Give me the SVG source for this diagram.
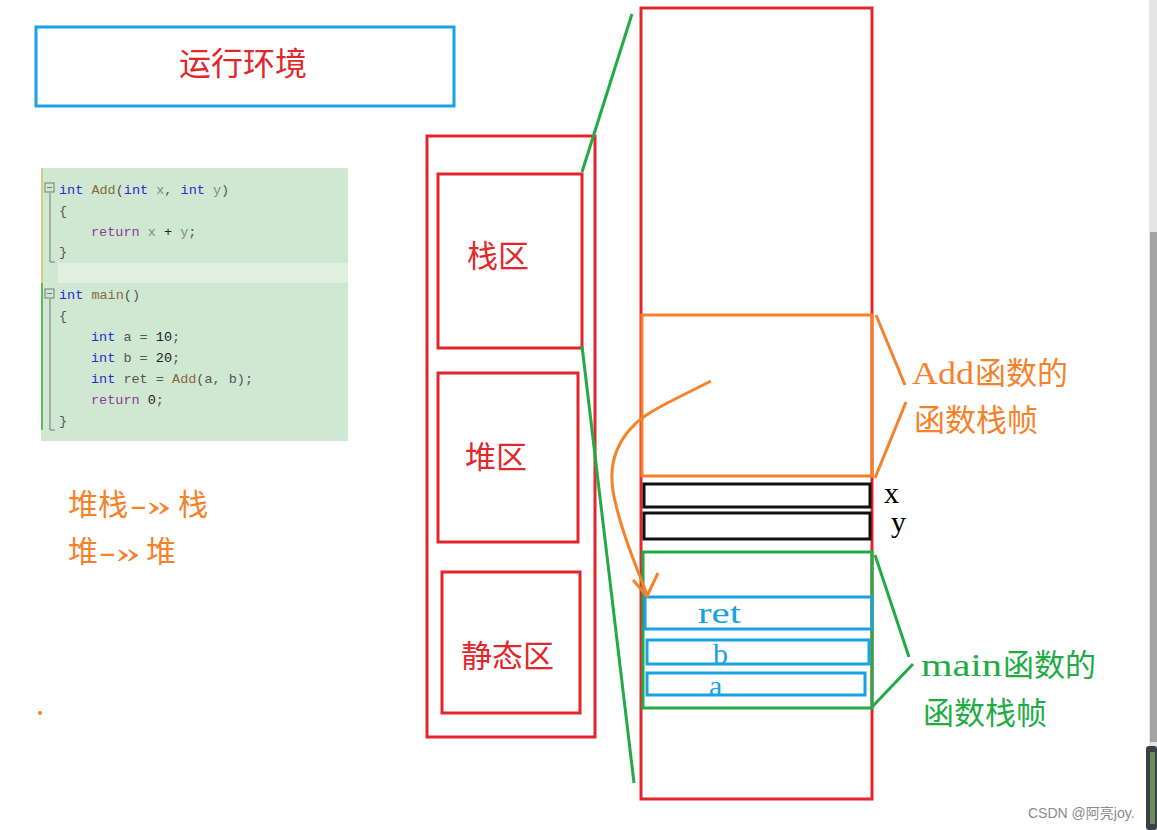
<svg xmlns="http://www.w3.org/2000/svg" width="1157" height="830" viewBox="0 0 1157 830">
<style>
.red{fill:none;stroke:#e3262b;stroke-width:3}
.blue{fill:none;stroke:#17a2e2;stroke-width:3}
.blk{fill:none;stroke:#111;stroke-width:3}
.org{fill:none;stroke:#f5822b;stroke-width:3}
.grn{fill:none;stroke:#22ab45;stroke-width:3}
.cjk{font-family:"Liberation Serif","Noto Sans CJK SC",serif}
.code{font-family:"Liberation Mono","Noto Sans CJK SC",monospace;font-size:13.5px;fill:#555}
.kw{fill:#2b2bd0}.fn{fill:#8a6a3a}.pr{fill:#888}.rt{fill:#8e3a9a}.num{fill:#222}
</style>
<rect width="1157" height="830" fill="#fff"/>

<g id="title">
<rect x="36" y="27" width="418" height="79" class="blue"/>
<text x="243" y="75" text-anchor="middle" class="cjk" font-size="32" fill="#e3262b">运行环境</text>
</g>

<g id="code">
<rect x="41" y="168" width="307" height="273" fill="#cfe8d1"/>
<rect x="58" y="263" width="290" height="20" fill="#dff0e0"/>
<line x1="42" y1="168" x2="42" y2="283" stroke="#e0c060" stroke-width="1.5"/>
<line x1="42" y1="283" x2="42" y2="430" stroke="#40a040" stroke-width="1.5"/>
<g fill="none" stroke="#777" stroke-width="1">
<rect x="45" y="183" width="9" height="9"/><line x1="47" y1="187.5" x2="52" y2="187.5"/>
<polyline points="50,193 50,262 55,262"/>
<rect x="45" y="289" width="9" height="9"/><line x1="47" y1="293.5" x2="52" y2="293.5"/>
<polyline points="50,299 50,430 55,430"/>
</g>
<text class="code" y="194"><tspan x="59" class="kw">int</tspan><tspan class="fn"> Add</tspan><tspan>(</tspan><tspan class="kw">int</tspan><tspan class="pr"> x</tspan><tspan>, </tspan><tspan class="kw">int</tspan><tspan class="pr"> y</tspan><tspan>)</tspan></text>
<text class="code" x="59" y="215">{</text>
<text class="code" y="236"><tspan x="91" class="rt">return</tspan><tspan class="pr"> x </tspan><tspan class="num">+</tspan><tspan class="pr"> y</tspan><tspan>;</tspan></text>
<text class="code" x="59" y="256">}</text>
<text class="code" y="299"><tspan x="59" class="kw">int</tspan><tspan class="fn"> main</tspan><tspan>()</tspan></text>
<text class="code" x="59" y="320">{</text>
<text class="code" y="341"><tspan x="91" class="kw">int</tspan><tspan> a = </tspan><tspan class="num">10</tspan><tspan>;</tspan></text>
<text class="code" y="362"><tspan x="91" class="kw">int</tspan><tspan> b = </tspan><tspan class="num">20</tspan><tspan>;</tspan></text>
<text class="code" y="383"><tspan x="91" class="kw">int</tspan><tspan> ret = </tspan><tspan class="fn">Add</tspan><tspan>(a, b);</tspan></text>
<text class="code" y="404"><tspan x="91" class="rt">return</tspan><tspan class="num"> 0</tspan><tspan>;</tspan></text>
<text class="code" x="59" y="425">}</text>
</g>

<g id="note" class="cjk" font-size="30" fill="#f5822b">
<text y="515"><tspan x="68">堆栈</tspan><tspan x="130" textLength="42" lengthAdjust="spacingAndGlyphs">-»</tspan><tspan> </tspan><tspan x="178">栈</tspan></text>
<text y="562"><tspan x="68">堆</tspan><tspan x="99" textLength="42" lengthAdjust="spacingAndGlyphs">-»</tspan><tspan> </tspan><tspan x="146">堆</tspan></text>
<circle cx="40" cy="713" r="2" fill="#f5822b"/>
</g>

<g id="memory">
<rect x="427" y="136" width="168" height="601" class="red"/>
</g>
<g id="stack-area">
<rect x="438" y="174" width="144" height="174" class="red"/>
<text x="467" y="267" class="cjk" font-size="31" fill="#e3262b">栈区</text>
</g>
<g id="heap-area">
<rect x="438" y="373" width="140" height="169" class="red"/>
<text x="465" y="468" class="cjk" font-size="31" fill="#e3262b">堆区</text>
</g>
<g id="static-area">
<rect x="442" y="572" width="138" height="141" class="red"/>
<text x="461" y="667" class="cjk" font-size="31" fill="#e3262b">静态区</text>
</g>

<g id="stack-detail">
<rect x="641" y="8" width="231" height="791" class="red"/>
</g>
<g id="add-frame">
<rect x="642" y="315" width="230" height="161" class="org"/>
<text y="384" class="cjk" font-size="31" fill="#f5822b"><tspan x="912" textLength="62" lengthAdjust="spacingAndGlyphs">Add</tspan><tspan x="975">函数的</tspan></text>
<text x="914" y="431" class="cjk" font-size="31" fill="#f5822b">函数栈帧</text>
</g>
<g id="param-x">
<rect x="644" y="484" width="226" height="23" class="blk"/>
<text x="884" y="503" font-family="Liberation Serif,serif" font-size="30" fill="#000">x</text>
</g>
<g id="param-y">
<rect x="644" y="513" width="226" height="26" class="blk"/>
<text x="891" y="532" font-family="Liberation Serif,serif" font-size="30" fill="#000">y</text>
</g>
<g id="main-frame">
<rect x="643" y="552" width="229" height="156" class="grn"/>
<text y="676" class="cjk" font-size="31" fill="#22ab45"><tspan x="921" textLength="81" lengthAdjust="spacingAndGlyphs">main</tspan><tspan x="1003">函数的</tspan></text>
<text x="923" y="724" class="cjk" font-size="31" fill="#22ab45">函数栈帧</text>
</g>
<g id="var-ret">
<rect x="645" y="597" width="227" height="32" class="blue"/>
<text x="698" y="623" font-family="Liberation Serif,serif" font-size="30" fill="#17a2e2" textLength="43" lengthAdjust="spacingAndGlyphs">ret</text>
</g>
<g id="var-b">
<rect x="647" y="640" width="222" height="24" class="blue"/>
<text x="713" y="664" font-family="Liberation Serif,serif" font-size="30" fill="#17a2e2">b</text>
</g>
<g id="var-a">
<rect x="647" y="673" width="218" height="22" class="blue"/>
<text x="709" y="696" font-family="Liberation Serif,serif" font-size="30" fill="#17a2e2">a</text>
</g>

<g id="connectors">
<line x1="582" y1="172" x2="632" y2="14" class="grn"/>
<line x1="582" y1="346" x2="634" y2="783" class="grn"/>
<line x1="876" y1="315" x2="905" y2="385" class="org"/>
<line x1="906" y1="402" x2="875" y2="478" class="org"/>
<line x1="875" y1="555" x2="909" y2="657" class="grn"/>
<line x1="913" y1="664" x2="872" y2="707" class="grn"/>
<path d="M711,381 C680,397 650,410 636,423 C610,448 608,475 616,505 C624,540 638,570 647,595" class="org"/>
<polyline points="633,580 647,596 658,573" class="org"/>
</g>

<g id="chrome">
<rect x="1149" y="0" width="8" height="830" fill="#e4e4e4"/>
<rect x="1150" y="232" width="7" height="510" fill="#a3a3a3"/>
<rect x="1146" y="746" width="11" height="84" rx="3" fill="#3a3f4a"/>
<rect x="1150" y="752" width="5" height="72" fill="#8fbf7a" opacity="0.6"/>
<text x="1028" y="818" font-family="Liberation Sans,Noto Sans CJK SC,sans-serif" font-size="14" fill="#8a8a8a">CSDN @阿亮joy.</text>
</g>
</svg>
